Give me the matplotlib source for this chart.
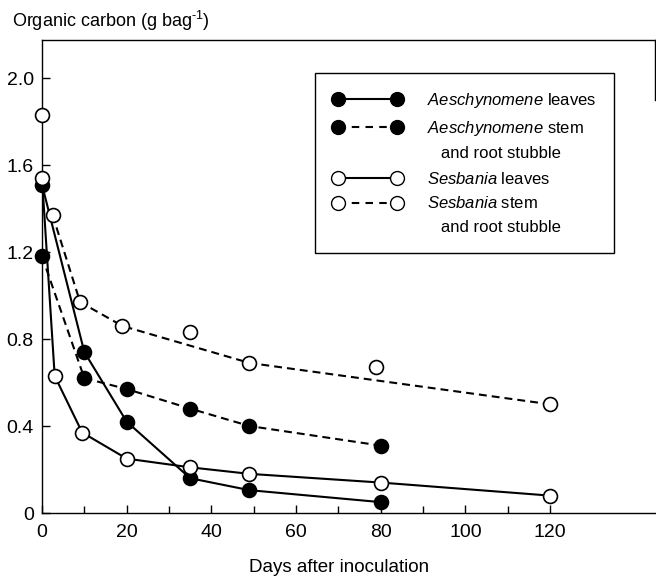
import matplotlib
matplotlib.use("Agg")
import matplotlib.pyplot as plt
from matplotlib.lines import Line2D

plt.rcParams['font.family'] = ['Liberation Sans', 'DejaVu Sans']
plt.rcParams['mathtext.fontset'] = 'custom'
plt.rcParams['mathtext.rm'] = 'Liberation Sans'
plt.rcParams['mathtext.it'] = 'Liberation Sans:italic'

# ---- data ----
aesch_days = [0, 10, 20, 35, 49, 80]
aesch_leaves = [1.51, 0.74, 0.42, 0.16, 0.105, 0.05]
aesch_stem = [1.18, 0.62, 0.57, 0.48, 0.40, 0.31]

sesb_leaves_days = [0, 3, 9.5, 20, 35, 49, 80, 120]
sesb_leaves = [1.54, 0.63, 0.37, 0.25, 0.21, 0.18, 0.14, 0.08]

sesb_stem_days = [0, 2.5, 9, 19, 35, 49, 79, 120]
sesb_stem = [1.83, 1.37, 0.97, 0.86, 0.83, 0.69, 0.67, 0.50]
# dashed line for Sesbania stem as drawn in the picture (through a subset of points)
sesb_stem_line_days = [2.5, 9, 19, 49, 120]
sesb_stem_line = [1.37, 0.97, 0.86, 0.69, 0.50]

x_ticks = [0, 20, 40, 60, 80, 100, 120]
y_ticks = [0, 0.4, 0.8, 1.2, 1.6, 2.0]
y_tick_labels = ['0', '0.4', '0.8', '1.2', '1.6', '2.0']

legend_labels = [r'$\it{Aeschynomene}$ leaves',
                 r'$\it{Aeschynomene}$ stem',
                 '   and root stubble',
                 r'$\it{Sesbania}$ leaves',
                 r'$\it{Sesbania}$ stem',
                 '   and root stubble']

# ---- figure ----
W, H = 656, 579
fig = plt.figure(figsize=(W / 100, H / 100), dpi=100)
ax = fig.add_axes([42 / W, 1 - 513 / H, 613 / W, 473 / H])

lw = 1.5
ms = 10
dash = (3.8, 2.4)

# lines
ax.plot(aesch_days, aesch_stem, color='black', lw=lw, dashes=dash, zorder=2)
ax.plot(sesb_stem_line_days, sesb_stem_line, color='black', lw=lw, dashes=dash, zorder=2)
ax.plot(aesch_days, aesch_leaves, color='black', lw=lw, zorder=2)
ax.plot(sesb_leaves_days, sesb_leaves, color='black', lw=lw, zorder=2)

# markers
mk_filled = dict(marker='o', ms=ms, mfc='black', mec='black', mew=1.2,
                 linestyle='none', clip_on=False, zorder=3)
mk_open = dict(marker='o', ms=ms, mfc='white', mec='black', mew=1.2,
               linestyle='none', clip_on=False, zorder=4)
ax.plot(aesch_days, aesch_stem, **mk_filled)
ax.plot(aesch_days, aesch_leaves, **mk_filled)
ax.plot(sesb_stem_days, sesb_stem, **mk_open)
ax.plot(sesb_leaves_days, sesb_leaves, **mk_open)

ax.set_xlim(0, 144.8)
ax.set_ylim(0, 2.175)
ax.set_xticks(x_ticks)
ax.set_xticks([10, 30, 50, 70, 90, 110], minor=True)
ax.set_yticks(y_ticks)
ax.set_yticklabels(y_tick_labels)
ax.tick_params(axis='both', which='both', direction='in', width=1.0,
               labelsize=14, color='black')
ax.tick_params(axis='both', which='major', length=6)
ax.tick_params(axis='x', which='minor', length=5)
ax.tick_params(axis='x', pad=8)
ax.tick_params(axis='y', pad=6)

for s in ax.spines.values():
    s.set_linewidth(1.0)
ax.spines['right'].set_bounds(1.9, 2.175)

# legend
h_al = Line2D([], [], color='black', lw=lw, marker='o', ms=ms, mfc='black', mec='black')
h_as = Line2D([], [], color='black', lw=lw, dashes=(3.6, 3.0), marker='o', ms=ms,
              mfc='black', mec='black')
h_sl = Line2D([], [], color='black', lw=lw, marker='o', ms=ms, mfc='white', mec='black')
h_ss = Line2D([], [], color='black', lw=lw, dashes=(3.6, 3.0), marker='o', ms=ms,
              mfc='white', mec='black')
h_blank = Line2D([], [], linestyle='none', marker=None)
handles = [h_al, h_as, h_blank, h_sl, h_ss, h_blank]

ax_w, ax_h = 613, 473
leg = ax.legend(handles, legend_labels, loc='upper left',
                bbox_to_anchor=((315 - 42) / ax_w, (513 - 73) / ax_h),
                borderaxespad=0, frameon=True, fancybox=False,
                edgecolor='black', framealpha=1, fontsize=12,
                numpoints=2, handlelength=4.15, handletextpad=1.5,
                borderpad=1.05, labelspacing=0.54)
leg.get_frame().set_linewidth(1.0)

# axis labels
fig.text(12 / W, 1 - 27 / H, r'Organic carbon (g bag$^{\mathrm{\text{-}1}}$)', fontsize=13,
         ha='left', va='baseline')
fig.text(339 / W, 1 - 568 / H, 'Days after inoculation', fontsize=13.5,
         ha='center', va='center')

fig.savefig('out.png', dpi=100)
